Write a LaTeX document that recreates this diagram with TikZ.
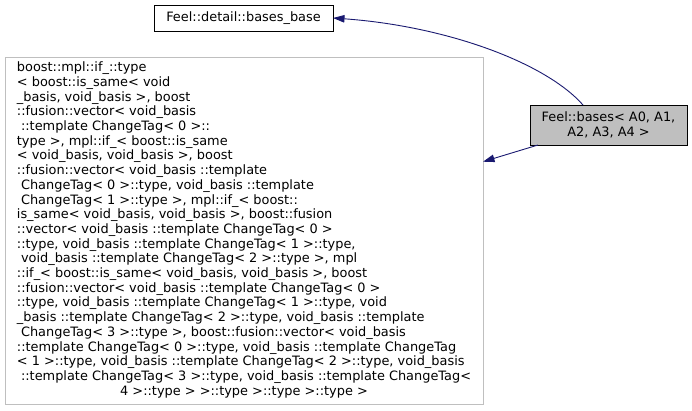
\documentclass[tikz,border=0pt]{standalone}
\usepackage{fontspec}
\setmainfont{DejaVu Sans}
\usetikzlibrary{arrows.meta,calc}
\definecolor{edgeblue}{HTML}{191970}
\definecolor{boxgray}{HTML}{BFBFBF}
\newcommand\ls{\mbox{}\ }
\begin{document}
\begin{tikzpicture}[x=1pt,y=-1pt,
  every node/.style={inner sep=0pt, outer sep=0pt, font=\fontsize{12.9}{14.7}\selectfont},
  classbox/.style={draw=black, line width=0.9pt, fill=white, align=center},
  curbox/.style={draw=black, line width=0.9pt, fill=boxgray, align=center},
  extbox/.style={draw=boxgray, line width=0.9pt, fill=white},
  inherit/.style={draw=edgeblue, line width=0.9pt, -{Triangle[length=11.5pt,width=7.5pt]}}]
\useasboundingbox (0,0) rectangle (692,411);
\node[classbox, minimum width=179pt, minimum height=26pt] (t) at (243.5,18) {Feel::detail::bases\_base};
\node[curbox, minimum width=157pt, minimum height=40pt] (r) at (608.5,125) {Feel::bases< A0, A1,\\A2, A3, A4 >};
\node[extbox, minimum width=478pt, minimum height=347pt] (b) at (244,230.5) {\begin{tabular}{@{}l@{}}
boost::mpl::if\_::type\\
< boost::is\_same< void\\
\_basis, void\_basis >, boost\\
::fusion::vector< void\_basis\\
\ls::template ChangeTag< 0 >::\\
type >, mpl::if\_< boost::is\_same\\
< void\_basis, void\_basis >, boost\\
::fusion::vector< void\_basis ::template\\
\ls ChangeTag< 0 >::type, void\_basis ::template\\
\ls ChangeTag< 1 >::type >, mpl::if\_< boost::\\
is\_same< void\_basis, void\_basis >, boost::fusion\\
::vector< void\_basis ::template ChangeTag< 0 >\\
::type, void\_basis ::template ChangeTag< 1 >::type,\\
\ls void\_basis ::template ChangeTag< 2 >::type >, mpl\\
::if\_< boost::is\_same< void\_basis, void\_basis >, boost\\
::fusion::vector< void\_basis ::template ChangeTag< 0 >\\
::type, void\_basis ::template ChangeTag< 1 >::type, void\\
\_basis ::template ChangeTag< 2 >::type, void\_basis ::template\\
\ls ChangeTag< 3 >::type >, boost::fusion::vector< void\_basis\\
::template ChangeTag< 0 >::type, void\_basis ::template ChangeTag\\
< 1 >::type, void\_basis ::template ChangeTag< 2 >::type, void\_basis\\
\ls::template ChangeTag< 3 >::type, void\_basis ::template ChangeTag<\\
\multicolumn{1}{@{}c@{}}{4 >::type > >::type >::type >::type >}
\end{tabular}};
\draw[inherit] ($(r.north west)+(53,0)$) .. controls (545,62) and (445,26) .. (t.east);
\draw[inherit] ($(r.south west)+(8,0)$) -- ($(b.north east)+(0,104.7)$);
\end{tikzpicture}
\end{document}
